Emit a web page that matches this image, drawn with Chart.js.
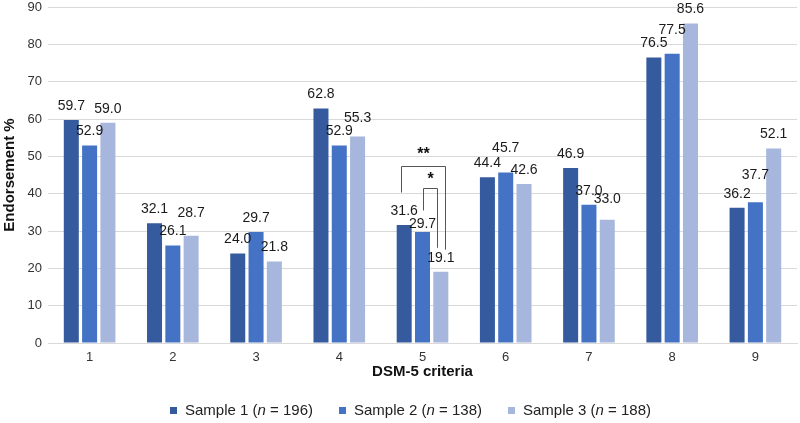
<!DOCTYPE html>
<html>
<head>
<meta charset="utf-8">
<script src="https://cdn.jsdelivr.net/npm/chart.js@4.4.1/dist/chart.umd.min.js"></script>
<style>
  html, body { margin: 0; padding: 0; background: #ffffff; }
  #wrap { position: relative; width: 800px; height: 423px; }
  #c { position: absolute; left: 0; top: 0; }
  .leg { position: absolute; top: 400px; font-family: "Liberation Sans", Arial, sans-serif; font-size: 15px; color: #222; white-space: nowrap; line-height: 20px; }
  .leg i { font-style: italic; }
  .box { display: inline-block; width: 7px; height: 7px; margin-right: 8px; vertical-align: 1px; }
</style>
</head>
<body>
<div id="wrap">
  <canvas id="c" width="800" height="423"></canvas>
  <div class="leg" style="left:170px"><span class="box" style="background:#355b9e"></span>Sample 1 (<i>n</i> = 196)</div>
  <div class="leg" style="left:339px"><span class="box" style="background:#4472c4"></span>Sample 2 (<i>n</i> = 138)</div>
  <div class="leg" style="left:508px"><span class="box" style="background:#a7b6dc"></span>Sample 3 (<i>n</i> = 188)</div>
</div>
<script>
// ---- data ----
const categories = ["1", "2", "3", "4", "5", "6", "7", "8", "9"];
const sample1 = [59.7, 32.1, 24.0, 62.8, 31.6, 44.4, 46.9, 76.5, 36.2];
const sample2 = [52.9, 26.1, 29.7, 52.9, 29.7, 45.7, 37.0, 77.5, 37.7];
const sample3 = [59.0, 28.7, 21.8, 55.3, 19.1, 42.6, 33.0, 85.6, 52.1];
const seriesNames = ["Sample 1 (n = 196)", "Sample 2 (n = 138)", "Sample 3 (n = 188)"];
const yTicks = [0, 10, 20, 30, 40, 50, 60, 70, 80, 90];

// ---- styles (label nudges in px, brackets) ----
const colors = ["#355b9e", "#4472c4", "#a7b6dc"];
const labelLift = [
  [0, 0, 0, 0, 0, 0, 0, 0, 0],
  [0, 0, 0, 0, -6, 10, 0, 10, 13],
  [0, 9, 0, 4, 0, 0, 7, 0, 0]
];

const labelPlugin = {
  id: 'valueLabels',
  afterDatasetsDraw(chart) {
    const ctx = chart.ctx;
    ctx.save();
    ctx.font = '14px "Liberation Sans", Arial, sans-serif';
    ctx.fillStyle = '#1a1a1a';
    ctx.textAlign = 'center';
    ctx.textBaseline = 'middle';
    chart.data.datasets.forEach((ds, di) => {
      const meta = chart.getDatasetMeta(di);
      meta.data.forEach((bar, i) => {
        ctx.fillText(ds.data[i].toFixed(1), bar.x, bar.y - 14 - labelLift[di][i]);
      });
    });
    ctx.restore();
  }
};

const bracketPlugin = {
  id: 'sigBrackets',
  afterDatasetsDraw(chart) {
    const ctx = chart.ctx;
    const y = chart.scales.y;
    const idx = 4;
    const b1 = chart.getDatasetMeta(0).data[idx];
    const b2 = chart.getDatasetMeta(1).data[idx];
    const b3 = chart.getDatasetMeta(2).data[idx];
    ctx.save();
    ctx.strokeStyle = '#555555';
    ctx.lineWidth = 1;
    // ** bracket (sample 1 vs sample 3)
    const xl = Math.round(b1.x - 3) + 0.5, xr = Math.round(b3.x + 4) + 0.5;
    const yt = Math.round(y.getPixelForValue(47.3)) + 0.5;
    ctx.beginPath();
    ctx.moveTo(xl, y.getPixelForValue(40.3));
    ctx.lineTo(xl, yt);
    ctx.lineTo(xr, yt);
    ctx.lineTo(xr, y.getPixelForValue(25.0));
    ctx.stroke();
    // * bracket (sample 2 vs sample 3)
    const xl2 = Math.round(b2.x) + 0.5, xr2 = Math.round(b3.x - 4) + 0.5;
    const yt2 = Math.round(y.getPixelForValue(41.4)) + 0.5;
    ctx.beginPath();
    ctx.moveTo(xl2, y.getPixelForValue(35.5));
    ctx.lineTo(xl2, yt2);
    ctx.lineTo(xr2, yt2);
    ctx.lineTo(xr2, y.getPixelForValue(25.5));
    ctx.stroke();
    ctx.fillStyle = '#111';
    ctx.textAlign = 'center';
    ctx.textBaseline = 'middle';
    ctx.font = 'bold 16px "Liberation Sans", Arial, sans-serif';
    ctx.fillText('**', (xl + xr) / 2, yt - 12);
    ctx.fillText('*', (xl2 + xr2) / 2, yt2 - 9);
    ctx.restore();
  }
};

new Chart(document.getElementById('c'), {
  type: 'bar',
  data: {
    labels: categories,
    datasets: [sample1, sample2, sample3].map((d, i) => ({
      label: seriesNames[i],
      data: d,
      backgroundColor: colors[i],
      borderWidth: 0,
      categoryPercentage: 0.66,
      barPercentage: 0.82
    }))
  },
  options: {
    responsive: false,
    animation: false,
    devicePixelRatio: 1,
    layout: { padding: { left: 0, right: 3, top: 0, bottom: 38 } },
    plugins: { legend: { display: false }, tooltip: { enabled: false } },
    scales: {
      x: {
        afterFit(scale) { scale.height = 42; scale.paddingLeft = 0; scale.paddingRight = 0; },
        grid: { display: false, drawTicks: false },
        border: { display: true, color: '#d9d9d9', width: 1 },
        ticks: { color: '#333', padding: 7, font: { family: '"Liberation Sans", Arial, sans-serif', size: 13 } },
        title: { display: true, text: 'DSM-5 criteria', color: '#111', padding: { top: 0, bottom: 4 },
                 font: { family: '"Liberation Sans", Arial, sans-serif', size: 15, weight: 'bold' } }
      },
      y: {
        min: 0, max: 90,
        afterBuildTicks(scale) { scale.ticks = yTicks.map(v => ({ value: v })); },
        afterFit(scale) { scale.width = 48; scale.paddingTop = 7; scale.paddingBottom = 0; },
        grid: { color: '#d9d9d9', drawTicks: false },
        border: { display: false },
        ticks: { color: '#333', padding: 6, font: { family: '"Liberation Sans", Arial, sans-serif', size: 13 } },
        title: { display: true, text: 'Endorsement %', color: '#111', padding: { top: 1, bottom: 0 },
                 font: { family: '"Liberation Sans", Arial, sans-serif', size: 15, weight: 'bold' } }
      }
    }
  },
  plugins: [labelPlugin, bracketPlugin]
});
</script>
</body>
</html>
